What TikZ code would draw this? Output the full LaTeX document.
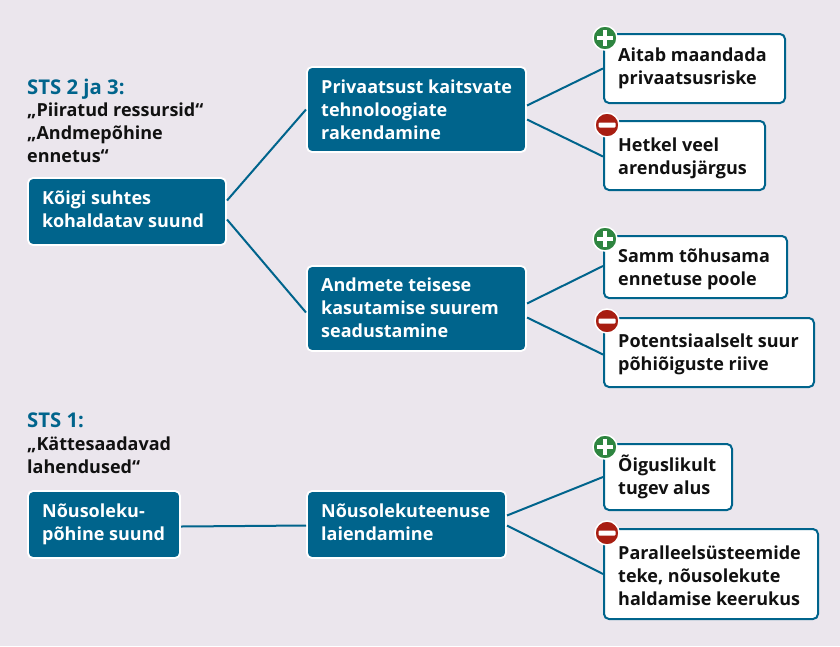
\documentclass[tikz,border=0pt]{standalone}
\usepackage{fontspec}
\setmainfont{Open Sans}
\usetikzlibrary{calc}
\definecolor{bgc}{HTML}{EBE6ED}
\definecolor{teal}{HTML}{00648C}
\definecolor{plusc}{HTML}{2E8540}
\definecolor{minusc}{HTML}{A81E12}
\definecolor{ink}{HTML}{111111}
\tikzset{
 x=1pt,y=-1pt,
 anyb/.style={anchor=north west,rounded corners=5pt,inner sep=0pt,outer sep=0pt},
 dark/.style={anyb,fill=teal,draw=white,line width=1.8pt},
 light/.style={anyb,fill=white,draw=teal,line width=2pt},
 darktxt/.style={text=white},
 lighttxt/.style={text=ink},
 conn/.style={draw=teal,line width=2pt},
 head/.style={anchor=north west,inner sep=0pt,text=teal,font=\fontsize{20.3}{23}\selectfont\bfseries},
 sub/.style={anchor=north west,inner sep=0pt,align=left,text=ink,font=\fontsize{18}{23}\selectfont\bfseries},
 badge/.style={circle,minimum size=24pt,inner sep=0pt,outer sep=0pt,draw=white,line width=1.5pt},
}
\newcommand{\bx}[8]{% name, style, x1,y1,x2,y2, text top offset, text
 \node[#2,minimum width={(#5-#3)*1pt},minimum height={(#6-#4)*1pt}] (#1) at (#3,#4) {};
 \node[anchor=north west,inner sep=0pt,align=left,
   font=\fontsize{18}{23}\selectfont\bfseries,#2txt] (#1t) at ($(#3,#4)+(14,#7)$) {#8};
}
\newcommand{\plusb}[3]{%
 \node[badge,fill=plusc] (#1) at (#2,#3) {};
 \fill[white] (#2-8,#3-2.2) rectangle (#2+8,#3+2.2);
 \fill[white] (#2-2.2,#3-8) rectangle (#2+2.2,#3+8);
}
\newcommand{\minusb}[3]{%
 \node[badge,fill=minusc] (#1) at (#2,#3) {};
 \fill[white,rounded corners=1pt] (#2-8.5,#3-2.5) rectangle (#2+8.5,#3+2.5);
}
\begin{document}
\begin{tikzpicture}
\fill[bgc] (0,0) rectangle (840,646);
\useasboundingbox (0,0) rectangle (840,646);

\bx{k}{dark}{28}{178}{226}{245}{12.5}{Kõigi suhtes\\kohaldatav suund}
\bx{p}{dark}{307}{67}{526}{152}{13}{Privaatsust kaitsvate\\tehnoloogiate\\rakendamine}
\bx{a}{dark}{307}{266}{526}{351}{12}{Andmete teisese\\kasutamise suurem\\seadustamine}
\bx{n}{dark}{28}{491}{180}{558}{13}{Nõusoleku-\\põhine suund}
\bx{t}{dark}{307}{491}{506}{558}{13}{Nõusolekuteenuse\\laiendamine}
\bx{l1}{light}{604}{34}{785}{103}{13.5}{Aitab maandada\\privaatsusriske}
\bx{l2}{light}{604}{121}{765}{190}{16.5}{Hetkel veel\\arendusjärgus}
\bx{l3}{light}{604}{236}{787}{298}{13}{Samm tõhusama\\ennetuse poole}
\bx{l4}{light}{604}{318}{814}{387}{16}{Potentsiaalselt suur\\põhiõiguste riive}
\bx{l5}{light}{604}{444}{732}{510}{11}{Õiguslikult\\tugev alus}
\bx{l6}{light}{604}{529}{818}{619}{16.5}{Paralleelsüsteemide\\teke, nõusolekute\\haldamise keerukus}

\draw[conn] ($(k.east)+(1,-11)$) -- ($(p.west)+(-1,0)$);
\draw[conn] ($(k.east)+(1,8)$) -- ($(a.west)+(-1,4)$);
\draw[conn] ($(p.east)+(1,-4)$) -- ($(l1.west)+(-1,0)$);
\draw[conn] ($(p.east)+(1,10)$) -- ($(l2.west)+(-1,1)$);
\draw[conn] ($(a.east)+(1,-5)$) -- ($(l3.west)+(-1,-1)$);
\draw[conn] ($(a.east)+(1,9)$) -- ($(l4.west)+(-1,2)$);
\draw[conn] ($(n.east)+(1,2)$) -- ($(t.west)+(-1,1)$);
\draw[conn] ($(t.east)+(1,-9)$) -- ($(l5.west)+(-1,0)$);
\draw[conn] ($(t.east)+(1,1)$) -- ($(l6.west)+(-1,0)$);

\plusb{b1}{605}{38}
\minusb{b2}{607}{125}
\plusb{b3}{605}{239}
\minusb{b4}{607}{321}
\plusb{b5}{605}{447}
\minusb{b6}{607}{533}

\node[head] (h1) at (27,79) {STS 2 ja 3:};
\node[sub] (s1) at (27,102.5) {„Piiratud ressursid“\\„Andmepõhine\\ennetus“};
\node[head] (h2) at (27,413) {STS 1:};
\node[sub] (s2) at (27,437) {„Kättesaadavad\\lahendused“};
\end{tikzpicture}
\end{document}
